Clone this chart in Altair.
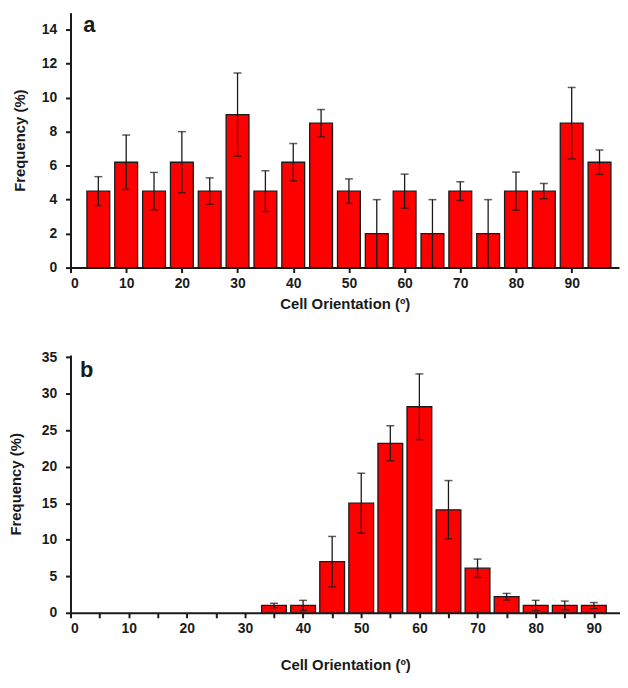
import altair as alt
import pandas as pd

# Panel a
angles_a = [5, 10, 15, 20, 25, 30, 35, 40, 45, 50, 55, 60, 65, 70, 75, 80, 85, 90, 95]
freq_a = [4.5, 6.2, 4.5, 6.2, 4.5, 9.0, 4.5, 6.2, 8.5, 4.5, 2.0, 4.5, 2.0, 4.5, 2.0, 4.5, 4.5, 8.5, 6.2]
err_a = [0.85, 1.6, 1.1, 1.8, 0.78, 2.45, 1.2, 1.1, 0.8, 0.72, 2.0, 1.0, 2.0, 0.55, 2.0, 1.12, 0.45, 2.1, 0.72]

# Panel b
angles_b = [35, 40, 45, 50, 55, 60, 65, 70, 75, 80, 85, 90]
freq_b = [1.0, 1.0, 7.0, 15.0, 23.2, 28.2, 14.1, 6.1, 2.2, 1.0, 1.0, 1.0]
err_b = [0.3, 0.7, 3.45, 4.1, 2.4, 4.5, 4.0, 1.25, 0.45, 0.7, 0.6, 0.4]

x_labels = [0, 10, 20, 30, 40, 50, 60, 70, 80, 90]
b_ticks = [0, 5, 10, 15, 20, 25, 30, 35, 40, 45, 50, 55, 60, 65, 70, 75, 80, 85, 90]
y_ticks_a = [0, 2, 4, 6, 8, 10, 12, 14]
y_ticks_b = [0, 5, 10, 15, 20, 25, 30, 35]

FONT = "Liberation Sans"
RED = "#FF0000"
DARK = "#1a1a1a"


def panel(angles, freq, err, letter, letter_pos, xmax, ytop, yticks, half, w, h,
          xticks, xlabel_only10, xtitle_pad, ytitle_pad):
    df = pd.DataFrame({"angle": angles, "freq": freq, "err": err})
    base = alt.Chart(df).transform_calculate(
        x0=f"datum.angle - {half}",
        x1=f"datum.angle + {half}",
        lo="datum.freq - datum.err",
        hi="datum.freq + datum.err",
    )
    xaxis = alt.Axis(
        values=xticks,
        labelExpr="datum.value % 10 == 0 ? datum.label : ''" if xlabel_only10 else "datum.label",
        title="Cell Orientation (º)",
        labelFont=FONT, labelFontWeight="bold", labelFontSize=14, labelColor=DARK,
        titleFont=FONT, titleFontWeight="bold", titleFontSize=15, titleColor=DARK,
        domainColor=DARK, domainWidth=2, tickColor=DARK, tickWidth=2, tickSize=5,
        labelPadding=4, titlePadding=xtitle_pad, grid=False, labelOverlap=False,
    )
    yaxis = alt.Axis(
        values=yticks,
        title="Frequency (%)",
        labelFont=FONT, labelFontWeight="bold", labelFontSize=14, labelColor=DARK,
        titleFont=FONT, titleFontWeight="bold", titleFontSize=15, titleColor=DARK,
        domainColor=DARK, domainWidth=2, tickColor=DARK, tickWidth=2, tickSize=5,
        labelPadding=9, titlePadding=ytitle_pad, grid=False, labelOverlap=False,
    )
    xscale = alt.Scale(domain=[0, xmax], nice=False, zero=False)
    yscale = alt.Scale(domain=[0, ytop], nice=False)

    bars = base.mark_bar(color=RED, stroke=DARK, strokeWidth=1.3).encode(
        x=alt.X("x0:Q", scale=xscale, axis=xaxis),
        x2="x1:Q",
        y=alt.Y("freq:Q", scale=yscale, axis=yaxis),
        y2=alt.datum(0),
    )
    rules = base.mark_rule(color=DARK, strokeWidth=1.3).encode(
        x=alt.X("angle:Q", scale=xscale, axis=xaxis),
        y=alt.Y("lo:Q", scale=yscale, axis=yaxis),
        y2="hi:Q",
    )
    cap_hi = base.mark_tick(color=DARK, orient="horizontal", size=8, thickness=1.5).encode(
        x=alt.X("angle:Q", scale=xscale, axis=xaxis),
        y=alt.Y("hi:Q", scale=yscale, axis=yaxis),
    )
    cap_lo = base.mark_tick(color=DARK, orient="horizontal", size=8, thickness=1.5).encode(
        x=alt.X("angle:Q", scale=xscale, axis=xaxis),
        y=alt.Y("lo:Q", scale=yscale, axis=yaxis),
    )
    lab = alt.Chart(pd.DataFrame({"t": [letter], "lx": [letter_pos[0]], "ly": [letter_pos[1]]})).mark_text(
        font=FONT, fontWeight="bold", fontSize=22, color=DARK, align="center", baseline="middle"
    ).encode(
        x=alt.X("lx:Q", scale=xscale, axis=xaxis),
        y=alt.Y("ly:Q", scale=yscale, axis=yaxis),
        text="t:N",
    )
    return alt.layer(bars, rules, cap_hi, cap_lo, lab).properties(width=w, height=h)


pa = panel(angles_a, freq_a, err_a, "a", (3.4, 14.3), 98.5, 15, y_ticks_a, 2.05, 553, 257,
           x_labels, False, 6, 14)
pb = panel(angles_b, freq_b, err_b, "b", (2.8, 33.2), 94.5, 35.3, y_ticks_b, 2.13, 554, 260,
           b_ticks, True, 22, 18)

chart = (
    alt.vconcat(pa, pb, spacing=39)
    .properties(padding={"top": 2, "left": 0, "right": 0, "bottom": 0})
    .configure_view(stroke=None)
    .configure_axis(labelOverlap=False)
)

chart.save("out.html", embed_options={"renderer": "svg", "actions": False})
